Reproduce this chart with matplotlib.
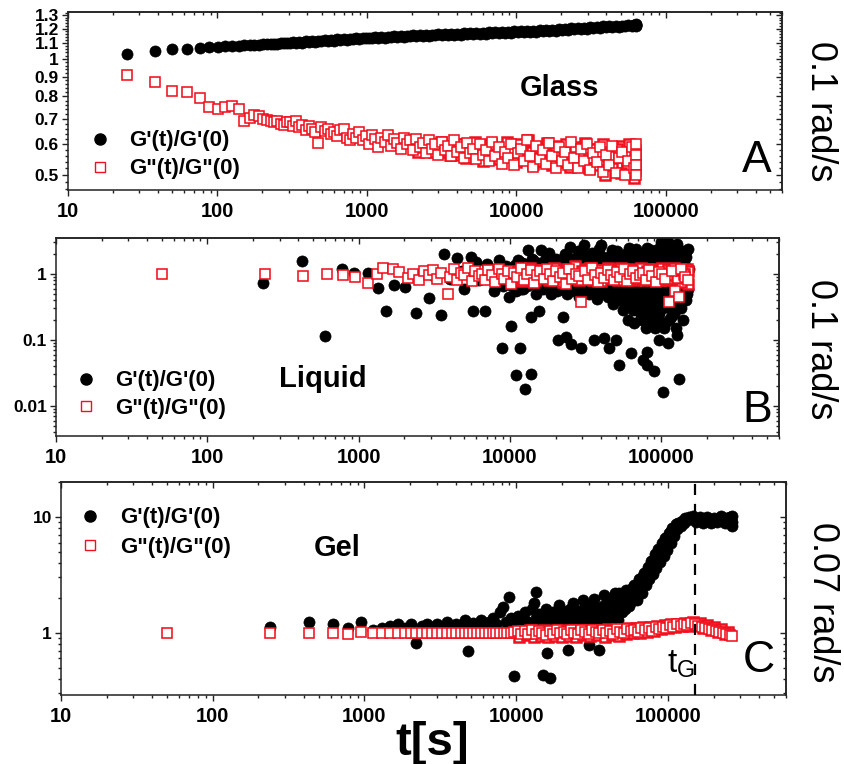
import numpy as np
import matplotlib
matplotlib.use('Agg')
import matplotlib.pyplot as plt
from matplotlib.lines import Line2D
from matplotlib.ticker import FixedLocator, FixedFormatter, NullFormatter, LogLocator, FuncFormatter

plt.rcParams['font.family'] = ['Liberation Sans', 'DejaVu Sans']

# ---- panel A : glass, 0.1 rad/s ----
t_glass = [25, 38, 50, 63, 76, 88, 101, 113, 126, 139,
           151, 164, 176, 189, 202, 215, 227, 240, 252, 265,
           278, 290,
           305, 320, 336, 353, 370, 389, 408, 429, 450, 473,
           496, 521, 547, 574, 603, 633, 665, 698, 733, 770,
           808, 849, 891, 936, 982, 1030, 1080, 1135, 1190, 1250,
           1315, 1380, 1450, 1520, 1600, 1680, 1760, 1850, 1940, 2040,
           2140, 2250, 2360, 2480, 2600, 2730, 2870, 3010, 3160, 3320,
           3490, 3660, 3840, 4030, 4240, 4450, 4670, 4900, 5150, 5400,
           5670, 5960, 6260, 6570, 6900, 7240, 7600, 7980, 8380, 8800,
           9240, 9700, 10200, 10700, 11200, 11800, 12400, 13000, 13600, 14300,
           15000, 15800, 16600, 17400, 18300, 19200, 20200, 21200, 22200, 23300,
           24500, 25700, 27000, 28400, 29800, 31300, 32800, 34500, 36200, 38000,
           39900, 41900, 44000, 46200, 48500, 50900, 53500, 56200, 59000, 61500,
           63000, 63000, 63000, 63000]
gp_glass = [1.03, 1.05, 1.06, 1.065, 1.07, 1.072, 1.075, 1.078, 1.08, 1.082,
            1.085, 1.087, 1.089, 1.09, 1.092, 1.094, 1.095, 1.096, 1.097, 1.098,
            1.099, 1.10,
            1.101, 1.106, 1.100, 1.108, 1.103, 1.111, 1.107, 1.113, 1.109, 1.117,
            1.111, 1.119, 1.115, 1.121, 1.117, 1.125, 1.119, 1.127, 1.123, 1.129,
            1.125, 1.133, 1.127, 1.135, 1.131, 1.137, 1.133, 1.140, 1.134, 1.142,
            1.137, 1.144, 1.139, 1.147, 1.141, 1.149, 1.143, 1.151, 1.145, 1.152,
            1.146, 1.154, 1.148, 1.156, 1.150, 1.158, 1.152, 1.159, 1.154, 1.161,
            1.155, 1.163, 1.156, 1.165, 1.158, 1.166, 1.160, 1.167, 1.162, 1.169,
            1.163, 1.171, 1.164, 1.173, 1.166, 1.174, 1.168, 1.176, 1.170, 1.178,
            1.172, 1.180, 1.173, 1.182, 1.175, 1.184, 1.177, 1.186, 1.179, 1.188,
            1.181, 1.190, 1.184, 1.193, 1.186, 1.195, 1.189, 1.198, 1.192, 1.201,
            1.194, 1.203, 1.197, 1.206, 1.200, 1.209, 1.203, 1.212, 1.206, 1.215,
            1.209, 1.217, 1.212, 1.220, 1.214, 1.222, 1.217, 1.225, 1.220, 1.228,
            1.230, 1.224, 1.220, 1.226]
gpp_glass = [0.91, 0.87, 0.825, 0.82, 0.79, 0.75, 0.74, 0.75, 0.755, 0.74,
             0.69, 0.705, 0.715, 0.71, 0.70, 0.695, 0.69, 0.685, 0.69, 0.68,
             0.675, 0.685,
             0.685, 0.67, 0.69, 0.665, 0.675, 0.655, 0.67, 0.66, 0.645, 0.605,
             0.665, 0.65, 0.66, 0.64, 0.645, 0.63, 0.655, 0.66, 0.625, 0.615,
             0.64, 0.625, 0.645, 0.615, 0.63, 0.60, 0.635, 0.62, 0.59, 0.625,
             0.61, 0.635, 0.595, 0.62, 0.605, 0.585, 0.625, 0.60, 0.615, 0.58,
             0.62, 0.59, 0.605, 0.57, 0.615, 0.585, 0.60, 0.565, 0.61, 0.58,
             0.595, 0.56, 0.615, 0.575, 0.59, 0.555, 0.605, 0.57, 0.585, 0.55,
             0.60, 0.565, 0.58, 0.545, 0.61, 0.56, 0.59, 0.535, 0.575, 0.555,
             0.60, 0.53, 0.57, 0.585, 0.545, 0.615, 0.56, 0.525, 0.595, 0.55,
             0.58, 0.535, 0.605, 0.56, 0.52, 0.59, 0.545, 0.575, 0.53, 0.61,
             0.555, 0.52, 0.585, 0.545, 0.60, 0.515, 0.57, 0.54, 0.59, 0.51,
             0.565, 0.53, 0.595, 0.505, 0.555, 0.575, 0.50, 0.545, 0.59, 0.52,
             0.60, 0.565, 0.53, 0.50]
# more G'' points where the red band is dense
t_glass_late = [2060, 2190, 2300, 2420, 2540, 2670, 2800, 2940, 3090, 3240,
                3400, 3570, 3750, 3940, 4130, 4340, 4560, 4790, 5030, 5280,
                5540, 5820, 6110, 6420, 6740, 7080, 7430, 7800, 8190, 8600,
                9030, 9480, 9950, 10450, 10970, 11500, 12100, 12700, 13300, 14000,
                14700, 15400, 16200, 17000, 17800, 18700, 19700, 20700, 21700, 22800,
                23900, 25100, 26400, 27700, 29100, 30500, 32000, 33600, 35300, 37100,
                38900, 40900, 42900, 45100, 47300, 49700, 52200, 54800, 57500, 60400,
                3150, 3600, 4080, 4640, 5260, 5970, 6770, 7680, 8710, 9880,
                10400, 11100, 11900, 12900, 13900, 14900, 16000, 17200, 18500, 19900,
                21400, 23000, 24700, 26600, 28600, 30700, 33000, 35500, 38200, 41000,
                44100, 47400, 51000, 54800, 58900, 62000, 62000, 62000, 61000, 60000,
                59000, 57000, 55000, 53000, 50000, 47000, 44000, 41500, 39000, 36500]
gpp_glass_late = [0.60, 0.575, 0.595, 0.59, 0.58, 0.60, 0.575, 0.59, 0.585, 0.595,
                  0.575, 0.585, 0.59, 0.565, 0.60, 0.575, 0.58, 0.59, 0.565, 0.575,
                  0.585, 0.57, 0.595, 0.56, 0.575, 0.585, 0.555, 0.575, 0.565, 0.59,
                  0.565, 0.575, 0.55, 0.59, 0.57, 0.56, 0.58, 0.575, 0.545, 0.57,
                  0.585, 0.56, 0.57, 0.545, 0.58, 0.555, 0.575, 0.56, 0.595, 0.54,
                  0.565, 0.58, 0.55, 0.57, 0.535, 0.575, 0.555, 0.585, 0.545, 0.565,
                  0.53, 0.575, 0.545, 0.565, 0.525, 0.56, 0.54, 0.58, 0.535, 0.555,
                  0.61, 0.565, 0.60, 0.555, 0.61, 0.545, 0.60, 0.55, 0.61, 0.54,
                  0.60, 0.55, 0.615, 0.535, 0.59, 0.545, 0.605, 0.53, 0.595, 0.54,
                  0.60, 0.525, 0.59, 0.535, 0.605, 0.52, 0.585, 0.53, 0.60, 0.515,
                  0.58, 0.525, 0.595, 0.51, 0.575, 0.58, 0.545, 0.515, 0.49, 0.56,
                  0.51, 0.60, 0.525, 0.575, 0.505, 0.585, 0.52, 0.56, 0.50, 0.575]

# ---- panel B : liquid, 0.1 rad/s ----
t_liq_gp = [235, 420, 595, 771, 935, 1150, 1337, 1513, 1710, 2030,
            2380, 2600, 2900, 3200, 3480, 3660, 4000, 4460, 4800, 5000,
            5500, 5700, 6000, 6200, 6840, 7000, 7400, 7800, 8000, 8500,
            8900, 9000, 9400, 9800, 10160, 10500, 10900, 11000, 11300, 11700,
            12000, 12200, 12600, 13000, 13200, 13800, 13800, 14000, 14500, 14800,
            15000, 15500, 16000, 16500, 16800, 17000, 17700, 18000, 18600, 19000,
            19500, 20000, 20500, 20900, 21000, 21500, 22000, 22500, 23000, 23500,
            24000, 24300, 25000, 25300, 26000, 26000, 26500, 27000, 27500, 28000,
            28500, 29000, 29500, 30500, 31000, 31000, 32500, 33000, 33500, 34000,
            35000, 36000, 36000, 37000, 37500, 38500, 39000, 40000, 41000, 41000,
            42000, 43500, 44000, 44500, 45000, 46500, 47000, 47500, 48000, 49000,
            50000, 50500, 51000, 52600, 53000, 53000, 54000, 55500, 56000, 56000,
            57000, 58500, 59000, 59500, 60000, 61500, 62000, 62500, 63000, 64500,
            65000, 65500, 66000, 67500, 68000, 68500, 69000, 70500, 71000, 71000,
            72000, 73500, 74000, 74500, 75000, 76000, 77000, 77500, 78000, 79000,
            80000, 80000, 81000, 81000, 82500, 83000, 84000, 85000, 85500, 86000,
            87500, 88000, 88500, 89000, 90500, 91000, 92000, 92000, 93500, 94000,
            95000, 96000, 97000, 98000, 99000, 100000, 100000, 102000, 103000, 103000,
            104000, 105000, 106000, 107000, 108000, 109000, 110000, 111000, 112000, 113000,
            114000, 115000, 116000, 117000, 118000, 119000, 120000, 121000, 122000, 124000,
            125000, 126000, 127000, 128000, 130000, 131000, 132000, 133000, 134000, 136000,
            138000, 139000, 140000, 142000, 144000, 145000, 146000, 148000, 150000, 150000,
            152000]
gp_liq = [0.73, 1.57, 0.115, 1.19, 1.05, 1.03, 0.61, 0.275, 0.68, 0.63,
          0.26, 1.0, 0.43, 0.9, 0.24, 2.0, 0.85, 1.75, 1.1, 0.6,
          1.8, 0.27, 1.5, 0.8, 0.27, 1.4, 1.2, 0.55, 0.7, 1.6,
          0.076, 0.65, 1.3, 0.45, 0.16, 0.9, 0.029, 0.55, 1.6, 0.076,
          1.45, 0.6, 0.018, 0.65, 2.3, 0.03, 0.22, 1.7, 1.2, 0.5,
          1.4, 0.27, 2.3, 0.6, 0.7, 1.6, 1.9, 2.1, 0.5, 0.65,
          1.5, 1.7, 0.55, 0.1, 1.4, 0.8, 0.6, 0.22, 2.0, 0.11,
          0.5, 1.8, 2.6, 0.087, 1.5, 0.65, 0.6, 0.55, 1.3, 2.2,
          0.45, 1.6, 0.076, 2.0, 2.75, 0.62, 0.55, 1.4, 0.5, 1.7,
          2.1, 0.1, 0.65, 1.6, 0.42, 0.55, 2.4, 2.75, 1.8, 0.6,
          0.107, 0.5, 1.5, 0.45, 0.076, 1.9, 2.3, 0.6, 0.35, 1.6,
          0.10, 0.5, 2.2, 0.042, 1.9, 0.4, 0.6, 0.28, 1.5, 0.55,
          1.6, 0.45, 2.1, 0.35, 0.2, 2.5, 1.6, 0.5, 0.064, 0.35,
          1.9, 0.28, 0.18, 0.6, 2.4, 0.45, 0.28, 1.8, 1.5, 0.3,
          0.4, 0.22, 2.0, 0.2, 0.5, 0.05, 0.55, 0.3, 1.7, 0.15,
          2.5, 0.35, 0.066, 0.042, 0.45, 0.2, 0.25, 1.6, 0.5, 2.3,
          0.6, 2.0, 0.3, 0.034, 0.35, 0.15, 0.2, 1.7, 0.45, 0.5,
          2.4, 0.1, 0.25, 0.3, 1.6, 3.0, 0.6, 0.016, 2.1, 0.3,
          0.4, 0.15, 0.18, 1.5, 2.6, 0.45, 0.09, 3.0, 0.55, 0.2,
          0.3, 1.8, 0.22, 0.5, 1.5, 2.3, 0.6, 0.25, 0.4, 1.6,
          0.15, 0.45, 2.8, 0.12, 0.3, 0.026, 1.9, 0.5, 0.6, 0.3,
          2.2, 0.2, 0.8, 1.5, 2.0, 0.4, 1.8, 0.5, 2.4, 0.6,
          1.2]
# G' points just above and below the G'' band
t_liq_gp_band = [10800, 11600, 12500, 14300, 15300, 16300, 17300, 18300, 19300, 21700,
                 23800, 26800, 29800, 32000, 34500, 38000, 42500, 45500, 49500, 52000,
                 55000, 58000, 60500, 63500, 66500, 69500, 72500, 76000, 79500, 83500,
                 10300, 11900, 13500, 15700, 17400, 19900, 22700, 25600, 28200, 30200,
                 32800, 35600, 38700, 42700, 46000, 49000, 52300, 55300, 57800, 61000,
                 64000, 67000, 70000, 73000, 76500, 80500, 84500, 88000, 92500, 97500]
gp_liq_band = [1.35, 1.5, 1.4, 1.6, 1.45, 1.35, 1.55, 1.4, 1.6, 1.5,
               1.45, 1.7, 1.5, 1.6, 1.45, 1.55, 1.4, 1.65, 1.5, 1.45,
               1.6, 1.4, 1.55, 1.5, 1.7, 1.45, 1.6, 1.5, 1.4, 1.55,
               0.65, 0.6, 0.7, 0.62, 0.68, 0.58, 0.66, 0.6, 0.7, 0.55,
               0.65, 0.6, 0.68, 0.55, 0.62, 0.7, 0.58, 0.65, 0.5, 0.6,
               0.45, 0.55, 0.4, 0.5, 0.35, 0.45, 0.3, 0.4, 0.28, 0.35]
t_liq_gpp = [50, 240, 430, 620, 783, 950, 1150, 1330, 1440, 1680,
             1850, 2120, 2300, 2500, 2700, 2900, 3100, 3300, 3500, 3870,
             4000, 4250, 4500, 4750, 5000, 5300, 5600, 5900, 6200, 6500,
             6850, 7200, 7600, 8000, 8400, 8800, 9200, 9700, 10200, 10700,
             11200, 11800, 12400, 13000, 13700, 14400, 15100, 15900, 16700, 17500,
             18400, 19300, 20300, 21300, 22400, 23500, 24700, 25900, 27200, 28600,
             29500, 31500, 33000, 34700, 36400, 38200, 40100, 42100, 44200, 46400,
             48700, 51100, 53700, 56400, 59200, 62100, 65200, 68500, 71900, 75500,
             79300, 83200, 87400, 91800, 96400, 101000, 106000, 112000, 117000, 123000,
             130000, 136000, 143000, 150000]
gpp_liq = [1.0, 1.0, 0.93, 0.98, 0.97, 0.9, 0.73, 1.0, 1.23, 1.19,
           1.07, 0.87, 1.0, 0.8, 1.1, 0.95, 1.15, 0.85, 1.05, 0.5,
           0.9, 1.2, 0.82, 1.05, 0.95, 1.25, 0.78, 1.1, 0.92, 1.0,
           0.8, 1.15, 0.95, 0.75, 1.2, 1.0, 0.85, 1.1, 0.7, 1.05,
           0.9, 1.25, 0.8, 1.0, 1.15, 0.72, 0.95, 1.1, 0.85, 1.2,
           0.98, 0.78, 1.12, 0.9, 1.05, 0.7, 1.18, 0.85, 1.0, 0.92,
           0.38, 1.1, 0.8, 1.22, 0.95, 0.75, 1.05, 0.88, 1.15, 0.97,
           0.82, 1.08, 0.9, 1.2, 0.78, 1.0, 1.12, 0.86, 0.95, 1.05,
           0.8, 1.15, 0.92, 0.75, 1.08, 0.98, 0.85, 0.38, 1.1, 0.55,
           0.45, 1.2, 0.9, 0.8]
t_liq_gpp_late = [10500, 11000, 11500, 12100, 12700, 13300, 14000, 14700, 15500, 16300,
                  17100, 17900, 18800, 19800, 20800, 21800, 22900, 24100, 25300, 26500,
                  27800, 29200, 30700, 32200, 33800, 35500, 37300, 39200, 41100, 43200,
                  45300, 47600, 50000, 52500, 55100, 57800, 60700, 63800, 67000, 70300,
                  73800, 77500, 81400, 85500, 89800, 94300, 99000, 104000, 109000, 114000,
                  120000, 126000, 132000, 139000, 146000, 148000, 150000, 150000, 140000, 135000,
                  12000, 13500, 15000, 16500, 18000, 19500, 21000, 22500, 24000, 25500,
                  27000, 28500, 30000, 32000, 34000, 36000, 38000, 40000, 42000, 44500,
                  47000, 49500, 52000, 54500, 57000, 59500, 62000, 65000, 68000, 71000,
                  74000, 77000, 80000, 83000, 86000, 89000, 92000, 95000, 98000, 101000,
                  104000, 107000, 110000, 113000, 116000, 119000, 122000, 128000, 134000, 141000]
gpp_liq_late = [1.0, 0.85, 1.1, 0.95, 1.2, 0.9, 1.05, 0.8, 1.15, 1.0,
                0.9, 1.1, 0.85, 1.2, 0.95, 1.05, 0.8, 1.15, 1.0, 0.9,
                1.1, 0.85, 1.2, 0.95, 1.05, 0.8, 1.15, 1.0, 0.88, 1.1,
                0.95, 1.2, 0.85, 1.05, 0.9, 1.15, 1.0, 0.82, 1.12, 0.95,
                1.05, 0.88, 1.18, 0.98, 0.85, 1.1, 0.92, 1.2, 0.8, 1.02,
                0.9, 1.15, 0.85, 1.05, 0.95, 1.2, 0.7, 1.1, 1.0, 0.75,
                0.78, 1.25, 0.9, 1.15, 0.8, 1.25, 1.0, 0.75, 1.2, 0.88,
                1.3, 0.8, 1.1, 0.95, 1.25, 0.85, 1.15, 0.78, 1.05, 1.22,
                0.9, 1.1, 0.8, 1.25, 0.95, 1.15, 0.85, 1.2, 0.9, 1.05,
                1.25, 0.8, 1.1, 0.95, 1.2, 0.85, 1.0, 1.15, 0.8, 1.25,
                0.9, 1.05, 1.2, 0.85, 1.1, 0.95, 1.22, 0.88, 1.15, 0.98]

# ---- panel C : gel, 0.07 rad/s ----
t_gel_gp = [240, 430, 620, 780, 950, 1130, 1300, 1480, 1660, 1840,
            2020, 2180, 2400, 2600, 2800, 3000, 3250, 3500, 3750, 4000,
            4300, 4600, 4800, 4900, 5200, 5550, 5900, 6250, 6600, 7000,
            7400, 7800, 8200, 8600, 8900, 9200, 9600, 9700, 10200, 10800,
            11000, 11400, 12000, 12300, 12700, 13000, 13400, 13500, 14100, 14500,
            14900, 15000, 15700, 16000, 16200, 16600, 16800, 17500, 18000, 18500,
            19000, 19500, 20000, 20600, 21200, 21700, 21800, 22900, 23500, 24200,
            24800, 25500, 26200, 26900, 27600, 28400, 29200, 30000, 30000, 30800,
            31600, 32500, 33400, 34300, 35000, 35200, 36100, 37100, 38100, 39200,
            40200, 41300, 42400, 43600, 44800, 46000, 47200, 48500, 49800, 51200,
            52600, 54000, 55500, 57000, 58500, 60100, 61700, 63400, 65100, 66900,
            68700, 70600, 72500, 74500, 76500, 78600, 80700, 82900, 85200, 87500,
            89900, 92300, 94800, 97400, 100000, 103000, 105000, 108000, 111000, 114000,
            117000, 121000, 124000, 127000, 130000, 134000, 138000, 142000, 146000, 150000,
            154000, 158000, 162000, 167000, 171000, 176000, 181000, 186000, 191000, 196000,
            201000, 207000, 212000, 218000, 224000, 230000, 236000, 243000, 249000, 256000,
            260000, 265000, 265000, 265000]
gp_gel = [1.12, 1.25, 1.2, 1.1, 1.25, 1.05, 1.1, 1.15, 1.18, 1.1,
          1.2, 0.82, 1.15, 1.2, 1.08, 1.18, 1.12, 1.25, 1.1, 1.2,
          1.15, 1.3, 0.69, 1.12, 1.22, 1.15, 1.3, 1.18, 1.25, 1.35,
          1.2, 1.5, 1.68, 1.25, 2.04, 1.35, 0.42, 1.2, 1.4, 1.3,
          1.1, 1.5, 1.25, 1.2, 1.6, 1.8, 1.35, 2.25, 1.45, 1.1,
          1.3, 0.43, 1.6, 0.67, 1.2, 1.35, 0.41, 1.5, 1.1, 1.3,
          1.75, 1.55, 1.2, 1.35, 1.1, 1.5, 0.71, 1.4, 1.8, 1.6,
          1.15, 1.35, 1.2, 1.55, 1.9, 1.45, 1.1, 0.79, 1.6, 1.25,
          1.45, 1.95, 1.65, 1.15, 0.71, 1.5, 1.3, 1.7, 2.1, 1.6,
          1.2, 1.8, 1.4, 1.7, 2.2, 1.9, 1.3, 1.8, 1.5, 2.1,
          2.1, 1.8, 2.3, 1.9, 2.5, 2.1, 2.6, 2.4, 2.9, 2.6,
          3.1, 2.8, 3.4, 3.0, 3.8, 3.4, 4.3, 3.9, 4.8, 4.4,
          5.4, 4.9, 6.1, 5.5, 6.8, 6.2, 7.5, 7.0, 8.2, 7.8,
          8.8, 8.4, 9.3, 8.9, 9.7, 9.4, 9.9, 9.6, 10.1, 9.8,
          9.0, 9.5, 10.0, 9.6, 8.8, 9.3, 9.9, 9.5, 8.9, 9.2,
          9.8, 9.4, 9.0, 9.6, 10.1, 9.3, 8.9, 9.7, 9.8, 10.0,
          9.6, 9.1, 8.4, 10.1]
t_gel_gp_rise = [15300, 16400, 17300, 18300, 19300, 20300, 21500, 22600, 23900, 25200,
                 26600, 28000, 29600, 31200, 32900, 34700, 36600, 38600, 40500, 41800,
                 43200, 44200, 46600, 48000, 49200, 50800, 52000, 53700, 55000, 57600,
                 40800, 42900, 45400, 47900, 50500, 53300, 56200, 59300, 62500, 64200,
                 67800, 69600, 71500, 73500, 75500, 77500, 79700, 81800, 84000, 86300,
                 88700, 91100, 93600, 96100, 98700, 101500, 104000, 106500, 110000, 113000]
gp_gel_rise = [1.2, 1.45, 1.25, 1.5, 1.3, 1.55, 1.25, 1.6, 1.3, 1.5,
               1.35, 1.65, 1.3, 1.7, 1.35, 1.6, 1.4, 1.75, 1.35, 1.55,
               1.45, 1.8, 1.5, 1.7, 1.55, 1.85, 1.6, 1.9, 1.7, 2.0,
               1.4, 2.0, 1.55, 2.2, 1.65, 2.35, 1.8, 2.6, 1.9, 2.9,
               2.2, 3.3, 2.6, 3.7, 2.9, 4.2, 3.2, 4.8, 3.6, 5.3,
               4.1, 5.9, 4.6, 6.6, 5.2, 7.3, 5.9, 8.0, 6.8, 8.6]
t_gel_gpp = [50, 240, 430, 620, 780, 950, 1130, 1300, 1480, 1660,
             1840, 2020, 2200, 2400, 2600, 2800, 3000, 3250, 3500, 3750,
             4000, 4300, 4600, 4900, 5200, 5550, 5900, 6250, 6600, 7000,
             7400, 7800, 8250, 8700, 9200, 9700, 10200, 10800, 11400, 12000,
             12700, 13400, 14100, 14900, 15700, 16600, 17500, 18500, 19500, 20600,
             21700, 22900, 24200, 25500, 26900, 28400, 30000, 31600, 33400, 35200,
             37100, 39200, 41300, 43600, 46000, 48500, 51200, 54000, 57000, 60100,
             63400, 66900, 70600, 74500, 78600, 82900, 87500, 92300, 97400, 103000,
             108000, 114000, 121000, 127000, 134000, 142000, 150000, 158000, 167000, 176000,
             186000, 196000, 207000, 218000, 230000, 243000, 256000, 265000]
gpp_gel = [1.0, 1.0, 1.0, 1.0, 0.98, 1.01, 1.0, 0.99, 1.0, 1.0,
           0.99, 1.0, 1.0, 0.99, 1.0, 1.0, 0.99, 1.0, 1.0, 0.99,
           1.0, 1.0, 0.99, 1.0, 1.0, 0.99, 1.0, 1.0, 1.0, 0.99,
           1.0, 1.0, 0.99, 1.0, 1.0, 1.01, 1.03, 0.97, 1.04, 0.98,
           1.05, 0.97, 1.03, 1.0, 0.96, 1.04, 0.98, 1.05, 0.99, 1.02,
           0.97, 1.05, 1.0, 0.98, 1.06, 1.01, 0.97, 1.05, 1.02, 0.99,
           1.06, 1.0, 1.03, 0.98, 1.07, 1.02, 1.0, 1.08, 1.03, 1.06,
           1.01, 1.09, 1.05, 1.1, 1.04, 1.12, 1.08, 1.13, 1.1, 1.16,
           1.12, 1.18, 1.15, 1.2, 1.17, 1.22, 1.19, 1.14, 1.12, 1.1,
           1.08, 1.06, 1.04, 1.02, 1.0, 0.97, 0.95, 0.93]
t_gel_gpp_late = [10500, 11100, 11700, 12300, 13000, 13700, 14500, 15300, 16100, 17000,
                  18000, 19000, 20000, 21100, 22300, 23500, 24800, 26200, 27600, 29200,
                  30800, 32500, 34300, 36200, 38200, 40300, 42500, 44800, 47300, 49900,
                  52600, 55500, 58600, 61800, 65200, 68800, 72600, 76600, 80800, 85300,
                  90000, 95000, 100000, 105500, 111000, 117500, 124000, 130500, 138000, 145500,
                  154000, 162000, 171000, 181000, 191000, 201500, 212500, 224000, 236500, 249500]
gpp_gel_late = [0.92, 1.04, 0.95, 1.05, 0.91, 1.03, 0.94, 1.05, 0.92, 1.04,
                0.93, 1.05, 0.91, 1.04, 0.94, 1.06, 0.92, 1.05, 0.95, 1.06,
                0.93, 1.06, 0.95, 1.05, 0.92, 1.07, 0.96, 1.06, 0.94, 1.08,
                0.97, 1.09, 0.99, 1.1, 1.0, 1.12, 1.02, 1.13, 1.04, 1.15,
                1.07, 1.16, 1.1, 1.18, 1.12, 1.2, 1.14, 1.22, 1.15, 1.23,
                1.16, 1.22, 1.1, 1.17, 1.06, 1.12, 1.02, 1.07, 0.98, 1.02]
t_gel_point = 150000

label_gp = "G'(t)/G'(0)"
label_gpp = 'G"(t)/G"(0)'
x_ticks = [10, 100, 1000, 10000, 100000]
glass_yticks = [0.5, 0.6, 0.7, 0.8, 0.9, 1.0, 1.1, 1.2, 1.3]
glass_ylabels = ['0.5', '0.6', '0.7', '0.8', '0.9', '1', '1.1', '1.2', '1.3']
liq_yticks = [0.01, 0.1, 1]
liq_ylabels = ['0.01', '0.1', '1']
gel_yticks = [1, 10]
gel_ylabels = ['1', '10']

red = '#f0101e'
spine_color = '#222222'
fig = plt.figure(figsize=(8.44, 7.64), dpi=100)
fig.patch.set_facecolor('white')


def style_axis(ax, ylim, yticks, ylabels, yminor, ysize):
    ax.set_xscale('log')
    ax.set_yscale('log')
    ax.set_xlim(10, 6e5)
    ax.set_ylim(*ylim)
    ax.xaxis.set_major_locator(FixedLocator(x_ticks))
    ax.xaxis.set_major_formatter(FuncFormatter(lambda v, p: '%d' % v))
    ax.xaxis.set_minor_locator(LogLocator(base=10, subs=np.arange(2, 10)))
    ax.xaxis.set_minor_formatter(NullFormatter())
    ax.yaxis.set_major_locator(FixedLocator(yticks))
    ax.yaxis.set_major_formatter(FixedFormatter(ylabels))
    ax.yaxis.set_minor_locator(yminor)
    ax.yaxis.set_minor_formatter(NullFormatter())
    for s in ax.spines.values():
        s.set_linewidth(1.1)
        s.set_color(spine_color)
    ax.tick_params(which='both', direction='out', color=spine_color, width=1.0)
    ax.tick_params(which='major', length=4.5)
    ax.tick_params(which='minor', length=2.5)
    ax.tick_params(axis='x', which='major', labelsize=14.5, pad=4)
    ax.tick_params(axis='y', which='major', labelsize=ysize, pad=2)
    for lab in ax.get_xticklabels() + ax.get_yticklabels():
        lab.set_fontweight('bold')
    # mirrored ticks pointing inward on top and right
    top = ax.secondary_xaxis('top')
    top.xaxis.set_major_locator(FixedLocator(x_ticks))
    top.xaxis.set_minor_locator(LogLocator(base=10, subs=np.arange(2, 10)))
    top.xaxis.set_major_formatter(NullFormatter())
    top.xaxis.set_minor_formatter(NullFormatter())
    top.tick_params(which='both', direction='in', color=spine_color, width=1.0)
    top.tick_params(which='major', length=4.5)
    top.tick_params(which='minor', length=2.5)
    right = ax.secondary_yaxis('right')
    right.yaxis.set_major_locator(FixedLocator(yticks))
    right.yaxis.set_minor_locator(yminor)
    right.yaxis.set_major_formatter(NullFormatter())
    right.yaxis.set_minor_formatter(NullFormatter())
    right.tick_params(which='both', direction='in', color=spine_color, width=1.0)
    right.tick_params(which='major', length=4.5)
    right.tick_params(which='minor', length=2.5)
    for s in list(top.spines.values()) + list(right.spines.values()):
        s.set_linewidth(1.1)
        s.set_color(spine_color)


def draw_series(ax, tg1, g1, tg2, g2, tg2_dense, g2_dense):
    ax.plot(tg1, g1, linestyle='none', marker='o', ms=8, mfc='black', mec='black', mew=0.5, zorder=2)
    # the dense tail of G'' is drawn with heavier edges so the band reads as solid red
    ax.plot(tg2_dense, g2_dense, linestyle='none', marker='s', ms=7.2, mfc='white', mec=red, mew=1.8, zorder=3)
    ax.plot(tg2, g2, linestyle='none', marker='s', ms=7.2, mfc='white', mec=red, mew=1.15, zorder=3)


def add_legend(ax, anchor, spacing, pad):
    handles = [Line2D([], [], linestyle='none', marker='o', ms=8, mfc='black', mec='black'),
               Line2D([], [], linestyle='none', marker='s', ms=7.2, mfc='white', mec=red, mew=1.0)]
    ax.legend(handles, [label_gp, label_gpp], loc='center left', bbox_to_anchor=anchor,
              frameon=False, handlelength=1.0, handletextpad=pad, borderpad=0,
              borderaxespad=0, labelspacing=spacing, prop={'weight': 'bold', 'size': 16})


# panel A
ax_a = fig.add_axes([0.0806, 0.7513, 0.846, 0.233])
draw_series(ax_a, t_glass, gp_glass, t_glass, gpp_glass, t_glass_late, gpp_glass_late)
style_axis(ax_a, (0.457, 1.325), glass_yticks, glass_ylabels,
           FixedLocator(np.arange(0.46, 1.33, 0.02)), 12.5)
add_legend(ax_a, (0.029, 0.197), 0.32, 0.8)
ax_a.text(0.689, 0.573, 'Glass', transform=ax_a.transAxes, ha='center', va='center',
          fontsize=21, fontweight='bold')
ax_a.text(0.965, 0.101, 'A', transform=ax_a.transAxes, ha='center', va='baseline', fontsize=32)

# panel B
ax_b = fig.add_axes([0.0664, 0.4293, 0.8566, 0.2592])
draw_series(ax_b, t_liq_gp + t_liq_gp_band, gp_liq + gp_liq_band,
            t_liq_gpp, gpp_liq, t_liq_gpp_late, gpp_liq_late)
style_axis(ax_b, (0.0035, 3.5), liq_yticks, liq_ylabels,
           LogLocator(base=10, subs=np.arange(2, 10)), 12.5)
add_legend(ax_b, (0.026, 0.21), 0.28, 0.8)
ax_b.text(0.369, 0.288, 'Liquid', transform=ax_b.transAxes, ha='center', va='center',
          fontsize=21, fontweight='bold')
ax_b.text(0.97, 0.071, 'B', transform=ax_b.transAxes, ha='center', va='baseline', fontsize=32)

# panel C
ax_c = fig.add_axes([0.0723, 0.0903, 0.859, 0.2788])
draw_series(ax_c, t_gel_gp + t_gel_gp_rise, gp_gel + gp_gel_rise,
            t_gel_gpp, gpp_gel, t_gel_gpp_late, gpp_gel_late)
style_axis(ax_c, (0.29, 20), gel_yticks, gel_ylabels,
           LogLocator(base=10, subs=np.arange(2, 10)), 12.5)
add_legend(ax_c, (0.025, 0.763), 0.37, 0.85)
ax_c.axvline(t_gel_point, color='black', linestyle=(0, (5, 4)), linewidth=1.6, zorder=4)
ax_c.text(0.381, 0.69, 'Gel', transform=ax_c.transAxes, ha='center', va='center',
          fontsize=21, fontweight='bold')
ax_c.text(0.963, 0.108, 'C', transform=ax_c.transAxes, ha='center', va='baseline', fontsize=32)
ax_c.text(0.836, 0.103, r'$\mathregular{t_G}$', transform=ax_c.transAxes, ha='left',
          va='baseline', fontsize=24)

# frequency labels on the right
fig.text(0.9716, 0.855, '0.1 rad/s', rotation=270, ha='center', va='center', fontsize=26)
fig.text(0.9716, 0.543, '0.1 rad/s', rotation=270, ha='center', va='center', fontsize=26)
fig.text(0.9740, 0.212, '0.07 rad/s', rotation=270, ha='center', va='center', fontsize=26)

fig.text(0.512, 0.027, 't[s]', ha='center', va='center', fontsize=34, fontweight='bold')

fig.savefig('out.png', dpi=100, facecolor='white')
